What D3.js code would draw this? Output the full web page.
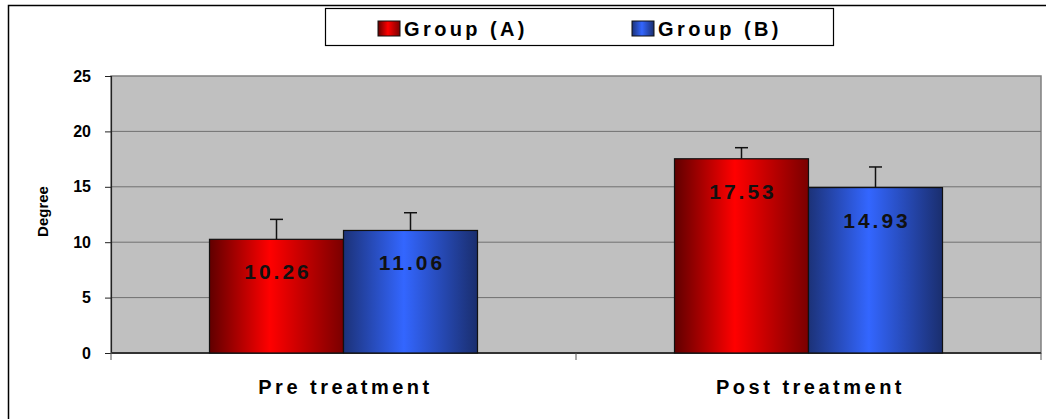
<!DOCTYPE html>
<html>
<head>
<meta charset="utf-8">
<script src="https://cdn.jsdelivr.net/npm/d3@7"></script>
<style>
  body { margin: 0; background: #fff; }
  text { font-family: "Liberation Sans", Arial, sans-serif; font-weight: bold; }
</style>
</head>
<body>
<div id="app"></div>
<script>
const categories = ['Pre treatment', 'Post treatment'];
const groups = ['Group (A)', 'Group (B)'];
const groupA = [10.26, 17.53];
const groupB = [11.06, 14.93];
const errA = [1.8, 1.0];
const errB = [1.6, 1.86];
const yTicks = [0, 5, 10, 15, 20, 25];

const W = 1046, H = 419;
const margin = { top: 76, left: 111, bottom: 66, right: 5 };
const w = W - margin.left - margin.right;
const h = H - margin.top - margin.bottom;

const rows = categories.map((c, i) => ({
  cat: c,
  vals: [
    { g: groups[0], v: groupA[i], e: errA[i] },
    { g: groups[1], v: groupB[i], e: errB[i] }
  ]
}));

const svg = d3.select('#app').append('svg')
  .attr('width', W)
  .attr('height', H);

// gradients
const defs = svg.append('defs');
function grad(id, edgeL, mid, edgeR) {
  const g = defs.append('linearGradient').attr('id', id)
    .attr('x1', '0%').attr('x2', '100%').attr('y1', '0%').attr('y2', '0%');
  g.append('stop').attr('offset', '0%').attr('stop-color', edgeL);
  g.append('stop').attr('offset', '45%').attr('stop-color', mid);
  g.append('stop').attr('offset', '100%').attr('stop-color', edgeR);
}
grad('gA', '#600000', '#ff0000', '#7a0000');
grad('gB', '#1c3278', '#3366ff', '#1a2e6e');
const fills = { 'Group (A)': 'url(#gA)', 'Group (B)': 'url(#gB)' };

// outer frame
svg.append('rect')
  .attr('x', 8.5).attr('y', 5.5)
  .attr('width', W + 10).attr('height', H + 10)
  .attr('fill', 'none').attr('stroke', '#000').attr('stroke-width', 1.5);

const g = svg.append('g')
  .attr('transform', 'translate(' + margin.left + ',' + margin.top + ')');

const yScale = d3.scaleLinear().domain([0, 25]).range([h, 0]);
const x0 = d3.scaleBand().domain(categories).range([0, w]).padding(0);
const x1 = d3.scaleBand().domain(groups).range([0, x0.bandwidth()])
  .paddingInner(0).paddingOuter(0.735);

// plot background
g.append('rect')
  .attr('width', w).attr('height', h)
  .attr('fill', '#c0c0c0')
  .attr('stroke', '#808080').attr('stroke-width', 1.5);

// gridlines
g.selectAll('.grid').data(yTicks.filter(d => d > 0 && d < 25))
  .enter().append('line')
  .attr('x1', 0).attr('x2', w)
  .attr('y1', d => yScale(d)).attr('y2', d => yScale(d))
  .attr('stroke', '#707070').attr('stroke-width', 1);

// y axis
const yAxis = d3.axisLeft(yScale).tickValues(yTicks).tickSize(6).tickPadding(14);
const yg = g.append('g').attr('class', 'y axis').call(yAxis);
yg.select('.domain').attr('stroke', '#222').attr('stroke-width', 1.2);
yg.selectAll('.tick line').attr('stroke', '#222');
yg.selectAll('.tick text').attr('font-size', 16).attr('fill', '#000')
  .attr('font-family', '"Liberation Sans", Arial, sans-serif');

// x axis
const xg = g.append('g').attr('transform', 'translate(0,' + h + ')');
xg.append('line').attr('x1', 0).attr('x2', w)
  .attr('stroke', '#333').attr('stroke-width', 2);
const bounds = [0].concat(categories.map(c => x0(c) + x0.bandwidth()));
xg.selectAll('.xt').data(bounds).enter().append('line')
  .attr('x1', d => d).attr('x2', d => d)
  .attr('y1', 0).attr('y2', 7)
  .attr('stroke', '#555').attr('stroke-width', 1);
xg.selectAll('.xl').data(categories).enter().append('text')
  .attr('x', d => x0(d) + x0.bandwidth() / 2 + 2)
  .attr('y', 41)
  .attr('text-anchor', 'middle')
  .attr('font-size', 20)
  .attr('letter-spacing', 3.5)
  .text(d => d);

// y title
svg.append('text')
  .attr('transform', 'translate(48,' + (margin.top + h / 2 - 3) + ') rotate(-90)')
  .attr('text-anchor', 'middle')
  .attr('font-size', 15)
  .text('Degree');

// bars
const cat = g.selectAll('.cat').data(rows).enter().append('g')
  .attr('transform', d => 'translate(' + x0(d.cat) + ',0)');

const bar = cat.selectAll('.bar').data(d => d.vals).enter().append('g');

// error bars (plus only)
bar.append('line')
  .attr('x1', d => x1(d.g) + x1.bandwidth() / 2)
  .attr('x2', d => x1(d.g) + x1.bandwidth() / 2)
  .attr('y1', d => yScale(d.v))
  .attr('y2', d => yScale(d.v + d.e))
  .attr('stroke', '#111').attr('stroke-width', 1.5);
bar.append('line')
  .attr('x1', d => x1(d.g) + x1.bandwidth() / 2 - 6.5)
  .attr('x2', d => x1(d.g) + x1.bandwidth() / 2 + 6.5)
  .attr('y1', d => yScale(d.v + d.e))
  .attr('y2', d => yScale(d.v + d.e))
  .attr('stroke', '#111').attr('stroke-width', 1.5);

bar.append('rect')
  .attr('x', d => x1(d.g))
  .attr('y', d => yScale(d.v))
  .attr('width', x1.bandwidth())
  .attr('height', d => h - yScale(d.v))
  .attr('fill', d => fills[d.g])
  .attr('stroke', '#111').attr('stroke-width', 1.2);

bar.append('text')
  .attr('x', d => x1(d.g) + x1.bandwidth() / 2 + 1.5)
  .attr('y', d => yScale(d.v) + 40)
  .attr('text-anchor', 'middle')
  .attr('font-size', 21)
  .attr('letter-spacing', 3)
  .attr('fill', '#111')
  .text(d => d.v.toFixed(2));

// legend
const lg = svg.append('g');
lg.append('rect')
  .attr('x', 325.5).attr('y', 8.5).attr('width', 508).attr('height', 37)
  .attr('fill', '#fff').attr('stroke', '#000').attr('stroke-width', 1.2);
const lx = [378, 632];
const li = lg.selectAll('.li').data(groups).enter().append('g')
  .attr('transform', (d, i) => 'translate(' + lx[i] + ',21)');
li.append('rect')
  .attr('width', 22).attr('height', 15)
  .attr('fill', d => fills[d])
  .attr('stroke', '#111').attr('stroke-width', 1);
li.append('text')
  .attr('x', 26).attr('y', 15)
  .attr('font-size', 20)
  .attr('letter-spacing', 3.4)
  .text(d => d);
</script>
</body>
</html>
